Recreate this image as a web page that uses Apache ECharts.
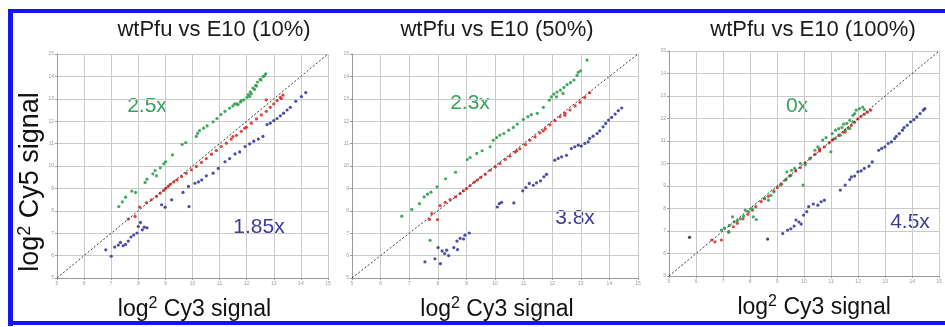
<!DOCTYPE html>
<html>
<head>
<meta charset="utf-8">
<script src="https://cdn.jsdelivr.net/npm/echarts@6/dist/echarts.min.js"></script>
<style>
  html, body { margin: 0; padding: 0; background: #fff; }
  #chart { width: 945px; height: 327px; }
</style>
</head>
<body>
<div id="chart"></div>
<script>
// log2 signal scale, same on both axes
const axisMin = 5
const axisMax = 15

const titles = ['wtPfu vs E10 (10%)', 'wtPfu vs E10 (50%)', 'wtPfu vs E10 (100%)']
const greenNotes = ['2.5x', '2.3x', '0x']
const blueNotes = ['1.85x', '3.8x', '4.5x']

// panel 1 (10%)
const p1Green = [[7.28,8.19],[7.41,8.40],[7.53,8.61],[7.76,8.88],[7.90,8.82],[8.25,9.26],[8.32,9.41],[8.54,9.65],[8.62,9.80],[8.67,9.56],[8.81,9.92],[8.94,10.10],[9.01,10.19],[9.26,10.50],[9.62,10.96],[9.75,11.05],[10.14,11.32],[10.19,11.46],[10.26,11.58],[10.41,11.69],[10.54,11.79],[10.76,11.97],[10.90,12.12],[11.05,12.30],[11.20,12.44],[11.37,12.58],[11.49,12.68],[11.56,12.77],[11.64,12.77],[11.68,12.74],[11.77,12.86],[11.80,12.92],[11.89,12.95],[12.01,13.07],[12.06,13.19],[12.11,13.10],[12.13,13.31],[12.17,13.22],[12.23,13.48],[12.29,13.42],[12.33,13.60],[12.36,13.57],[12.40,13.75],[12.50,13.87],[12.53,13.84],[12.60,13.99],[12.65,14.02],[12.70,14.11]]
const p1Red = [[7.63,7.63],[7.88,7.75],[8.05,8.16],[8.30,8.37],[8.48,8.49],[8.67,8.64],[8.81,8.79],[8.94,8.91],[9.01,9.00],[9.10,9.09],[9.18,9.18],[9.31,9.29],[9.43,9.38],[9.60,9.53],[9.77,9.68],[9.96,9.83],[10.14,9.98],[10.33,10.16],[10.51,10.33],[10.70,10.53],[10.88,10.69],[11.06,10.87],[11.25,11.02],[11.43,11.20],[11.49,11.31],[11.62,11.37],[11.80,11.55],[11.93,11.69],[11.99,11.73],[12.17,11.91],[12.36,12.10],[12.54,12.28],[12.72,12.44],[12.72,12.95],[12.87,12.62],[13.00,12.77],[13.12,12.92],[13.24,13.07],[13.28,13.01],[13.34,13.16]]
const p1Blue = [[6.80,6.26],[7.00,5.97],[7.13,6.38],[7.26,6.47],[7.34,6.59],[7.44,6.44],[7.53,6.50],[7.63,6.65],[7.73,6.83],[7.83,6.92],[7.95,7.01],[8.00,7.30],[8.08,7.48],[8.15,7.15],[8.22,7.27],[8.32,7.24],[8.86,8.27],[8.99,8.16],[9.23,8.49],[9.65,8.82],[9.85,9.09],[9.87,8.19],[10.09,9.23],[10.22,9.29],[10.34,9.38],[10.51,9.56],[10.76,9.68],[10.95,9.89],[11.20,10.19],[11.37,10.33],[11.57,10.54],[11.74,10.63],[11.94,10.87],[12.11,10.99],[12.26,11.11],[12.43,11.20],[12.60,11.32],[12.75,11.85],[12.87,11.91],[13.00,12.03],[13.12,12.12],[13.24,12.24],[13.36,12.36],[13.49,12.50],[13.61,12.62],[13.81,12.89],[14.02,13.10],[14.18,13.28]]

// panel 2 (50%)
const p2Green = [[6.74,7.76],[7.09,8.06],[7.36,8.32],[7.52,8.62],[7.64,8.74],[7.73,6.68],[7.76,8.83],[7.97,9.07],[8.27,9.43],[8.62,9.72],[9.03,10.29],[9.13,10.38],[9.36,10.56],[9.55,10.68],[9.83,10.86],[9.94,11.15],[10.06,11.27],[10.17,11.38],[10.31,11.45],[10.48,11.60],[10.64,11.72],[10.78,11.87],[10.99,12.08],[11.15,12.20],[11.27,12.29],[11.48,12.35],[11.69,12.62],[11.90,12.94],[11.97,13.09],[12.06,13.21],[12.15,13.09],[12.17,13.30],[12.29,13.39],[12.38,13.24],[12.41,13.51],[12.52,13.63],[12.64,13.72],[12.76,13.84],[12.87,14.05],[12.91,14.18],[12.99,14.25],[13.22,14.73]]
const p2Red = [[7.71,7.62],[7.99,7.61],[7.79,7.88],[8.08,8.23],[8.26,8.38],[8.43,8.50],[8.62,8.62],[8.78,8.77],[8.90,8.89],[9.01,8.99],[9.13,9.13],[9.27,9.28],[9.38,9.37],[9.50,9.49],[9.66,9.63],[9.83,9.81],[10.01,9.96],[10.17,10.11],[10.36,10.29],[10.52,10.44],[10.71,10.62],[10.76,10.68],[10.87,10.77],[11.06,10.95],[11.22,11.15],[11.40,11.30],[11.57,11.48],[11.69,11.57],[11.76,11.66],[11.92,11.84],[12.10,12.02],[12.27,12.20],[12.44,12.27],[12.45,12.35],[12.62,12.50],[12.80,12.68],[12.97,12.85],[13.14,13.06],[13.31,13.27]]
const p2Blue = [[7.55,5.72],[7.90,5.86],[8.09,5.64],[8.01,6.36],[8.15,6.21],[8.24,6.09],[8.38,6.00],[8.31,6.24],[8.56,6.36],[8.69,6.27],[8.67,6.65],[8.78,6.77],[8.90,6.74],[8.95,6.91],[9.10,7.01],[10.08,8.17],[10.15,8.32],[10.23,8.38],[10.66,8.35],[10.97,8.89],[11.08,9.04],[11.20,9.22],[11.34,9.14],[11.45,9.25],[11.59,9.34],[11.71,9.52],[11.80,9.63],[12.09,10.26],[12.21,10.34],[12.33,10.41],[12.50,10.48],[12.67,10.78],[12.79,10.86],[12.91,10.93],[13.02,10.89],[13.14,11.01],[13.26,11.08],[13.31,11.23],[13.43,11.33],[13.57,11.45],[13.66,11.57],[13.78,11.75],[13.87,11.90],[13.97,12.05],[14.08,12.17],[14.20,12.32],[14.31,12.47],[14.43,12.59]]

// panel 3 (100%)
const p3Green = [[6.94,7.04],[7.05,7.13],[7.21,6.94],[7.23,7.25],[7.35,7.63],[7.41,7.41],[7.53,7.46],[7.64,7.54],[7.76,7.66],[7.82,7.93],[7.94,7.86],[8.06,8.00],[8.12,7.63],[8.23,7.51],[8.53,8.45],[8.68,8.37],[8.77,8.59],[8.88,8.74],[9.12,9.04],[9.30,9.26],[9.36,9.63],[9.46,9.44],[9.53,9.70],[9.65,9.78],[9.86,10.00],[9.96,9.04],[10.04,9.94],[10.22,10.21],[10.40,10.59],[10.51,10.74],[10.69,11.04],[10.81,11.15],[10.99,10.52],[11.04,11.33],[11.16,11.48],[11.16,11.11],[11.28,11.55],[11.34,11.26],[11.40,11.60],[11.46,11.75],[11.52,11.48],[11.58,11.78],[11.69,11.92],[11.69,11.56],[11.81,12.14],[11.81,11.85],[11.87,12.22],[11.93,12.37],[12.05,12.44],[12.17,12.51],[12.23,12.40]]
const p3Red = [[6.58,6.60],[6.70,6.52],[6.94,6.60],[7.21,6.97],[7.38,7.19],[7.53,7.34],[7.74,7.54],[7.92,7.75],[8.09,7.93],[8.21,8.08],[8.41,8.31],[8.54,8.43],[8.68,8.55],[8.88,8.79],[9.01,8.93],[9.16,9.08],[9.33,9.29],[9.51,9.47],[9.69,9.67],[9.86,9.82],[10.04,10.03],[10.22,10.24],[10.40,10.41],[10.57,10.56],[10.57,10.65],[10.75,10.74],[10.93,10.92],[11.04,11.04],[11.10,11.09],[11.28,11.24],[11.46,11.39],[11.52,11.41],[11.64,11.57],[11.75,11.69],[11.87,11.83],[11.99,11.98],[12.11,12.10],[12.23,12.19],[12.34,12.28],[12.46,12.37]]
const p3Blue = [[9.21,6.89],[9.39,7.04],[9.51,7.10],[9.63,7.22],[9.70,7.49],[9.81,7.40],[9.89,7.31],[9.98,7.71],[10.10,7.86],[10.17,8.08],[10.34,8.20],[10.51,8.15],[10.63,8.30],[10.75,8.37],[11.34,8.82],[11.52,9.04],[11.69,9.29],[11.75,9.41],[11.87,9.44],[11.99,9.63],[12.11,9.67],[12.23,9.78],[12.40,9.88],[12.52,10.07],[12.76,10.59],[12.87,10.67],[12.99,10.74],[13.11,10.89],[13.23,10.96],[13.35,11.11],[13.41,11.21],[13.52,11.33],[13.64,11.48],[13.70,11.60],[13.82,11.70],[13.94,11.85],[14.06,11.95],[14.17,12.07],[14.29,12.22],[14.41,12.37],[14.47,12.44]]
const p3Gray = [[5.76,6.72],[8.65,6.64]]

const GREEN = '#2f9e4f'
const RED = '#d9302a'
const BLUE = '#3a3a9e'
const FONT = 'Liberation Sans, Arial'

const panels = [
  { green: p1Green, red: p1Red, blue: p1Blue, other: [] },
  { green: p2Green, red: p2Red, blue: p2Blue, other: [] },
  { green: p3Green, red: p3Red, blue: p3Blue, other: p3Gray },
]

const grids = [
  { left: 57, top: 54, width: 271, height: 224 },
  { left: 352, top: 54, width: 286, height: 224 },
  { left: 669, top: 51, width: 282, height: 225 },
]
const titleX = [214, 497, 813]
const greenPos = [[147, 106], [470, 103], [797, 106]]
const bluePos = [[259, 227], [575, 218], [910, 222]]

const nameRich = {
  a: { fontSize: 23, lineHeight: 27, color: '#111', fontFamily: FONT },
  s: { fontSize: 16, lineHeight: 16, color: '#111', verticalAlign: 'top', fontFamily: FONT },
}

const makeAxis = (i) => ({
  type: 'value',
  gridIndex: i,
  min: axisMin,
  max: axisMax,
  interval: 1,
  axisLine: { show: true, lineStyle: { color: '#999', width: 1 } },
  axisTick: { show: true, length: 2, lineStyle: { color: '#999' } },
  axisLabel: { fontSize: 5, color: '#999', margin: 3 },
  splitLine: { show: true, lineStyle: { color: '#cacaca', width: 1 } },
})

const xAxes = grids.map((g, i) => ({
  ...makeAxis(i),
  name: '{a|log}{s|2}{a| Cy3 signal}',
  nameLocation: 'middle',
  nameGap: 18,
  nameTextStyle: { rich: nameRich, padding: i === 2 ? [0, 0, 0, 20] : [0, 0, 0, 4] },
}))
const yAxes = grids.map((g, i) => ({
  ...makeAxis(i),
  name: i === 0 ? '{a|log}{s|2}{a| Cy5 signal}' : '',
  nameLocation: 'middle',
  nameGap: 10,
  nameRotate: 90,
  nameTextStyle: {
    padding: [0, 32, 0, 0],
    rich: {
      a: { ...nameRich.a, fontSize: 27, lineHeight: 30 },
      s: { ...nameRich.s, fontSize: 18, lineHeight: 18 },
    },
  },
}))

const series = []
panels.forEach((p, i) => {
  series.push({
    type: 'line',
    xAxisIndex: i,
    yAxisIndex: i,
    data: [[axisMin, axisMin], [axisMax, axisMax]],
    symbol: 'none',
    silent: true,
    lineStyle: { color: '#222', width: 0.9, type: [2, 2] },
  })
  const dots = [
    [p.blue, BLUE],
    [p.other, '#333'],
    [p.red, RED],
    [p.green, GREEN],
  ]
  dots.forEach(([d, c]) => {
    series.push({
      type: 'scatter',
      xAxisIndex: i,
      yAxisIndex: i,
      data: d,
      symbolSize: 3.2,
      itemStyle: { color: c, opacity: 0.9 },
    })
  })
})

const graphic = [
  // blue frame
  { type: 'rect', shape: { x: 8, y: 9, width: 5, height: 317 }, style: { fill: '#1414f5' } },
  { type: 'rect', shape: { x: 8, y: 9, width: 937, height: 4 }, style: { fill: '#1414f5' } },
  { type: 'rect', shape: { x: 8, y: 321, width: 937, height: 4 }, style: { fill: '#1414f5' } },
]
greenNotes.forEach((t, i) => {
  graphic.push({
    type: 'text', x: greenPos[i][0], y: greenPos[i][1],
    style: { text: t, fill: '#35a25a', font: '21px "Liberation Sans", Arial', align: 'center', verticalAlign: 'middle' },
  })
})
blueNotes.forEach((t, i) => {
  graphic.push({
    type: 'text', x: bluePos[i][0], y: bluePos[i][1],
    style: { text: t, fill: '#3d3d96', font: '21px "Liberation Sans", Arial', align: 'center', verticalAlign: 'middle' },
  })
})

const chart = echarts.init(document.getElementById('chart'))
chart.setOption({
  animation: false,
  backgroundColor: '#fff',
  title: titles.map((t, i) => ({
    text: t,
    left: titleX[i],
    top: 19,
    textAlign: 'center',
    padding: 0,
    textStyle: { fontSize: 22, fontWeight: 'normal', color: '#1a1a1a', fontFamily: FONT },
  })),
  grid: grids,
  xAxis: xAxes,
  yAxis: yAxes,
  series,
  graphic,
})
</script>
</body>
</html>
